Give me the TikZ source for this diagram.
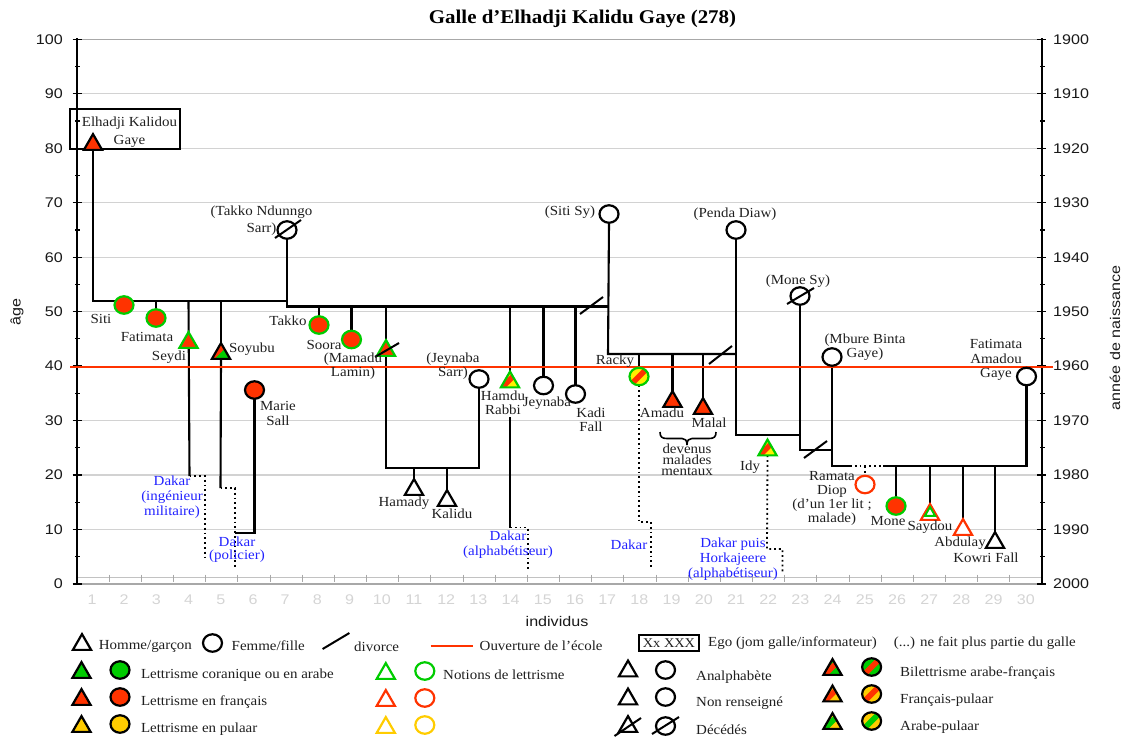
\documentclass[tikz,border=0pt]{standalone}
\usepackage{fontspec}
\usetikzlibrary{shapes.geometric}
\newfontfamily\serx[FakeStretch=1.08]{Liberation Serif}
\newfontfamily\sanx[FakeStretch=1.15]{Liberation Sans}
\definecolor{cred}{HTML}{FF3300}
\definecolor{cgreen}{HTML}{00CC00}
\definecolor{cyel}{HTML}{FFCC00}
\definecolor{byel}{HTML}{FFF000}
\definecolor{cblue}{HTML}{2222FF}
\definecolor{cgrid}{HTML}{D2D2D2}
\definecolor{caxis}{HTML}{A8A8A8}
\definecolor{ctick}{HTML}{D4D4D4}
\pgfdeclarelayer{bg}
\pgfsetlayers{bg,main}
\tikzset{
  tri/.style={regular polygon,regular polygon sides=3,minimum size=21pt,inner sep=0pt,outer sep=0pt,line width=2.2pt,draw=black,yshift=-0.6pt},
  circ/.style={ellipse,minimum width=19pt,minimum height=17.5pt,inner sep=0pt,outer sep=0pt,line width=2.2pt,draw=black},
  lin/.style={line width=2.1pt,line cap=butt,line join=miter,draw=black},
  dot/.style={line width=1.8pt,draw=black,dash pattern=on 1.8pt off 3pt},
  slash/.style={line width=2pt,draw=black},
  lab/.style={font=\serx\fontsize{13.85}{14.2}\selectfont,align=center,inner sep=0pt,text=black!88},
  blu/.style={lab,text=cblue,font=\serx\fontsize{13.85}{15}\selectfont},
  leg/.style={font=\serx\fontsize{13.85}{14}\selectfont,inner sep=0pt,anchor=west,text=black!88},
  leg0/.style={font=\serx\fontsize{13.85}{14}\selectfont,inner sep=0pt,anchor=west,text=black!88},
  ax/.style={font=\sanx\fontsize{14}{15}\selectfont,inner sep=0pt,text=black!90},
  axg/.style={font=\sanx\fontsize{14}{15}\selectfont,inner sep=0pt,text=ctick},
  band/.style 2 args={fill=#1,path picture={\draw[#2,line width=5.5pt] ([shift={(-16pt,-16pt)}]path picture bounding box.center) -- ([shift={(16pt,16pt)}]path picture bounding box.center);}},
  half/.style 2 args={fill=#1,path picture={\draw[#2,line width=12pt] ([shift={(-20pt,-13pt)}]path picture bounding box.center) -- ([shift={(13pt,20pt)}]path picture bounding box.center);}},
}
\begin{document}
\begin{tikzpicture}[x=1pt,y=-1pt]
\useasboundingbox (0,0) rectangle (1123,737);

% ---------- chart frame
\begin{pgfonlayer}{bg}
\foreach \v in {10,20,...,90} {\pgfmathsetmacro\yy{584-5.447*\v}
  \draw[cgrid,line width=1.2pt] (77,\yy) -- (1042,\yy);}
\draw[caxis,line width=1.2pt] (77,39.3) -- (1042,39.3);
\draw[caxis!70,line width=1pt] (77,577) -- (1042,577);
\draw[caxis,line width=1.5pt] (77,584) -- (1042,584);
\foreach \k in {0,...,29} {\pgfmathsetmacro\xx{77+32.17*\k}\draw[caxis,line width=1pt] (\xx,574.5) -- (\xx,582);}
\draw[black,line width=1.6pt] (77,38) -- (77,584.5);
\draw[black,line width=1.6pt] (1042,38) -- (1042,584.5);
\foreach \v in {0,10,...,100} {\pgfmathsetmacro\yy{584-5.447*\v}
  \draw[black,line width=1.3pt] (72.5,\yy) -- (81.5,\yy);
  \draw[black,line width=1.3pt] (1037,\yy) -- (1046,\yy);}
\foreach \v in {5,15,...,95} {\pgfmathsetmacro\yy{584-5.447*\v}
  \draw[black,line width=1.1pt] (75,\yy) -- (80,\yy);
  \draw[black,line width=1.1pt] (1040,\yy) -- (1044.5,\yy);}
\end{pgfonlayer}
\foreach \v in {0,10,...,100} {\pgfmathsetmacro\yy{584-5.447*\v}\pgfmathtruncatemacro\an{2000-\v}
  \node[ax,anchor=east] (ya\v) at (63,\yy) {\v};
  \node[ax,anchor=west] (yb\v) at (1053,\yy) {\an};}
\foreach \k in {1,...,30} {\pgfmathsetmacro\xx{92+32.2*(\k-1)}
  \node[axg] (xl\k) at (\xx,600) {\k};}
\node[ax] (xtitle) at (557,621) {individus};
\node[ax,rotate=90] (ytitle) at (17,312) {âge};
\node[ax,rotate=90] (ztitle) at (1115,338) {année de naissance};
\node[inner sep=0pt,font=\serx\bfseries\fontsize{19.4}{20}\selectfont] (title) at (582.5,19) {Galle d’Elhadji Kalidu Gaye (278)};

% ---------- school line
\coordinate (redL) at (70,367);
\coordinate (redR) at (1053,367);
\draw[cred,line width=2.2pt] (redL) -- (redR);

% ---------- ego box
\node[draw=black,line width=2.2pt,minimum width=110pt,minimum height=40pt,inner sep=0pt] (egobox) at (125,129) {};

% ---------- persons
\node[tri,fill=cred] (ego) at (93,144) {};
\node[circ,draw=cgreen,fill=cred] (siti) at (124,305) {};
\node[circ,draw=cgreen,fill=cred] (fatimata) at (156,318) {};
\node[tri,draw=cgreen,fill=cred] (seydi) at (188.5,342) {};
\node[tri,half={cgreen}{cred}] (soyubu) at (221,353) {};
\node[circ,fill=cred] (marie) at (254.5,390) {};
\node[circ] (takN) at (287,230) {};
\node[circ,draw=cgreen,fill=cred] (takko) at (319,325) {};
\node[circ,draw=cgreen,fill=cred] (soora) at (351.5,339.5) {};
\node[tri,draw=cgreen,fill=cred] (mamadu) at (386,350) {};
\node[circ] (jeynS) at (479,379) {};
\node[tri,fill=white] (hamady) at (414,489) {};
\node[tri,fill=white] (kalidu) at (447,500) {};
\node[tri,draw=cgreen,band={byel}{cred}] (hamdu) at (510,381.5) {};
\node[circ] (jeyn) at (543.5,385.5) {};
\node[circ] (kadi) at (575.5,394) {};
\node[circ] (sitisy) at (609,214) {};
\node[circ,draw=cgreen,band={byel}{cred}] (racky) at (639,376.5) {};
\node[tri,fill=cred] (amadu) at (672.5,401) {};
\node[tri,fill=cred] (malal) at (703,408) {};
\node[circ] (penda) at (736,230) {};
\node[tri,draw=cgreen,band={byel}{cred}] (idy) at (767.5,449.5) {};
\node[circ] (monesy) at (800,296) {};
\node[circ] (mbure) at (832,357) {};
\node[circ] (fatam) at (1026.5,376.5) {};
\node[circ,draw=cred,fill=white] (ramata) at (865,484.5) {};
\node[circ,draw=cgreen,fill=cred] (mone) at (896,506) {};
\node[tri,draw=cred,fill=white] (saydou) at (930,514) {};
\node[tri,draw=cgreen,fill=white,minimum size=11.8pt,line width=1.9pt] (saydouIn) at (930,512.3) {};
\node[tri,draw=cred,fill=white] (abdulay) at (963,529) {};
\node[tri,fill=white] (kowri) at (995,542) {};

% ---------- junctions
\coordinate (b1L) at (93,301);
\coordinate (b1R) at (287,301);
\coordinate (b2L) at (287,306.5);
\coordinate (b2R) at (608,306.5);
\coordinate (b3L) at (608,354);
\coordinate (b3R) at (736,354);
\coordinate (b4L) at (736,435);
\coordinate (b4R) at (800,435);
\coordinate (b5R) at (832,450);
\coordinate (b5L) at (800,450);
\coordinate (b6L) at (832,466);
\coordinate (b6a) at (850,466);
\coordinate (b6b) at (883,466);
\coordinate (b6R) at (1026.5,466);
\coordinate (b7L) at (386,468);
\coordinate (b7R) at (479,468);
\coordinate (sy1) at (189.5,476);
\coordinate (sy2) at (205,476);
\coordinate (sy3) at (205,558);
\coordinate (so1) at (220.5,488);
\coordinate (so2) at (235,488);
\coordinate (so3) at (235,569);
\coordinate (ma1) at (254.5,533);
\coordinate (ma2) at (235,533);
\coordinate (ha0) at (510,417);
\coordinate (ha1) at (510,527.5);
\coordinate (ha2) at (528,527.5);
\coordinate (ha3) at (528,569);
\coordinate (ra1) at (639,522);
\coordinate (ra2) at (651,522);
\coordinate (ra3) at (651,567);
\coordinate (id1) at (767,549);
\coordinate (id2) at (782.5,549);
\coordinate (id3) at (782.5,573);

% ---------- connectors
\begin{pgfonlayer}{bg}
\draw[lin] (ego.south) -- (b1L) -- (b1R);
\draw[lin] (takN.south) -- (b2L) -- (b2R);
\draw[lin] (fatimata.north |- b1L) -- (fatimata.north);
\draw[lin] (seydi.north |- b1L) -- (sy1);
\draw[dot] (sy1) -- (sy2) -- (sy3);
\draw[lin] (soyubu.north |- b1L) -- (soyubu.north);
\draw[lin] (soyubu.south) -- (so1);
\draw[dot] (so1) -- (so2) -- (so3);
\draw[lin] (marie.south) -- (ma1) -- (ma2);
\draw[lin] (takko.north |- b2L) -- (takko.north);
\draw[lin] (soora.north |- b2L) -- (soora.north);
\draw[lin] (mamadu.north |- b2L) -- (b7L) -- (b7R) -- (jeynS.south);
\draw[lin] (hamady.north |- b7L) -- (hamady.north);
\draw[lin] (kalidu.north |- b7L) -- (kalidu.north);
\draw[lin] (hamdu.north |- b2L) -- (hamdu.north);
\draw[lin] (ha0) -- (ha1);
\draw[dot] (ha1) -- (ha2) -- (ha3);
\draw[lin] (jeyn.north |- b2L) -- (jeyn.north);
\draw[lin] (kadi.north |- b2L) -- (kadi.north);
\draw[lin] (sitisy.south) -- (b3L) -- (b3R);
\draw[lin] (racky.north |- b3L) -- (racky.north);
\draw[dot] (racky.south) -- (ra1) -- (ra2) -- (ra3);
\draw[lin] (amadu.north |- b3L) -- (amadu.north);
\draw[lin] (malal.north |- b3L) -- (malal.north);
\draw[lin] (penda.south) -- (b4L) -- (b4R);
\draw[dot] (idy.south) -- (id1) -- (id2) -- (id3);
\draw[lin] (monesy.south) -- (b5L) -- (b5R);
\draw[lin] (mbure.south) -- (b6L) -- (b6a);
\draw[dot] (b6a) -- (b6b);
\draw[dot] (ramata.north |- b6a) -- (ramata.north);
\draw[lin] (b6b) -- (b6R) -- (fatam.south);
\draw[lin] (mone.north |- b6R) -- (mone.north);
\draw[lin] (saydou.north |- b6R) -- (saydou.north);
\draw[lin] (abdulay.north |- b6R) -- (abdulay.north);
\draw[lin] (kowri.north |- b6R) -- (kowri.north);
\end{pgfonlayer}

% ---------- divorce / death marks
\draw[slash] (275,238) -- (301,220);
\draw[slash] (375,357) -- (399,343);
\draw[slash] (580,314) -- (603,297);
\draw[slash] (709,364) -- (732,346);
\draw[slash] (787,304) -- (814,288);
\draw[slash] (804,458) -- (827,441);

% ---------- brace
\draw[line width=1.6pt] (660,432) .. controls (660,437) and (662,438.5) .. (667,438.5) -- (682,438.5) .. controls (685,438.5) and (687,440) .. (687,445);
\draw[line width=1.6pt] (716,432) .. controls (716,437) and (714,438.5) .. (709,438.5) -- (692,438.5) .. controls (689,438.5) and (687,440) .. (687,445);

% ---------- labels
\node[lab] (lEgo) at (129.5,132) {Elhadji Kalidou\\[4pt]Gaye};
\node[lab] (lTakN) at (261.5,220.5) {(Takko Ndunngo\\[3pt]Sarr)};
\node[lab] (lSiti) at (101,319) {Siti};
\node[lab] (lFat) at (147,337) {Fatimata};
\node[lab] (lSey) at (169,357) {Seydi};
\node[lab] (lSoy) at (252,349) {Soyubu};
\node[lab] (lTak) at (288,321) {Takko};
\node[lab] (lSoo) at (324,345) {Soora};
\node[lab] (lMam) at (353,366) {(Mamadu\\Lamin)};
\node[lab] (lMar) at (278,413.5) {Marie\\Sall};
\node[lab] (lHam) at (404,503) {Hamady};
\node[lab] (lKal) at (452,514) {Kalidu};
\node[lab] (lJeS) at (453,366.5) {(Jeynaba\\Sarr)};
\node[lab] (lHad) at (503,402.5) {Hamdu\\Rabbi};
\node[lab] (lJey) at (547,403) {Jeynaba};
\node[lab] (lKad) at (591,419.5) {Kadi\\Fall};
\node[lab] (lSit) at (570,212) {(Siti Sy)};
\node[lab] (lPen) at (735,214) {(Penda Diaw)};
\node[lab] (lRac) at (615,361) {Racky};
\node[lab] (lAma) at (662,413) {Amadu};
\node[lab] (lMal) at (709,423) {Malal};
\node[lab,font=\serx\fontsize{13.85}{11}\selectfont] (lDev) at (687,459.5) {devenus\\malades\\mentaux};
\node[lab] (lIdy) at (750,467) {Idy};
\node[lab] (lMoS) at (798,281) {(Mone Sy)};
\node[lab] (lMbu) at (865,347.5) {(Mbure Binta\\Gaye)};
\node[lab] (lFam) at (996,360) {Fatimata\\Amadou\\Gaye};
\node[lab] (lRam) at (832,498.5) {Ramata\\Diop\\(d’un 1er lit ;\\malade)};
\node[lab] (lMon) at (888,521) {Mone};
\node[lab] (lSay) at (930,527) {Saydou};
\node[lab] (lAbd) at (960,543) {Abdulay};
\node[lab] (lKow) at (986,558) {Kowri Fall};
\node[blu] (dk1) at (172,497) {Dakar\\(ingénieur\\militaire)};
\node[blu,font=\serx\fontsize{13.85}{13}\selectfont] (dk2) at (237,549.5) {Dakar\\(policier)};
\node[blu] (dk3) at (508,544.5) {Dakar\\(alphabétiseur)};
\node[blu] (dk4) at (629,545) {Dakar};
\node[blu] (dk5) at (733,559) {Dakar puis\\Horkajeere\\(alphabétiseur)};

% ---------- legend, first row
\node[tri,fill=white] (k1) at (82,644) {};
\node[leg0] (k1t) at (98.7,646) {Homme/garçon};
\node[circ,fill=white] (k2) at (212.5,643) {};
\node[leg0] (k2t) at (231.5,646) {Femme/fille};
\draw[slash] (322.6,649) -- (349.4,633);
\node[leg0] (k3t) at (354,647) {divorce};
\coordinate (k4a) at (430.5,646);
\coordinate (k4b) at (472.6,646);
\draw[cred,line width=2pt] (k4a) -- (k4b);
\node[leg0] (k4t) at (479.5,646) {Ouverture de l’école};
\node[draw=black,line width=2pt,minimum width=60pt,minimum height=16pt,inner sep=0pt,font=\serx\fontsize{13.3}{14}\selectfont,text=black!88] (k5) at (669,643) {Xx XXX};
\node[leg0] (k5t) at (708,643) {Ego (jom galle/informateur)};
\node[leg0] (k6t) at (893.7,643) {(...) ne fait plus partie du galle};

% ---------- legend, literacy
\node[tri,fill=cgreen] (a1) at (81.5,672) {};
\node[circ,fill=cgreen] (a2) at (120,670) {};
\node[leg] (at) at (140.8,675) {Lettrisme coranique ou en arabe};
\node[tri,fill=cred] (b1) at (81.5,699) {};
\node[circ,fill=cred] (b2) at (120,697) {};
\node[leg] (bt) at (140.8,702) {Lettrisme en français};
\node[tri,fill=cyel] (c1) at (81.5,726) {};
\node[circ,fill=cyel] (c2) at (120,724) {};
\node[leg] (ct) at (140.8,729) {Lettrisme en pulaar};

\node[tri,draw=cgreen] (d1) at (385.8,673) {};
\node[circ,draw=cgreen] (d2) at (424.8,671) {};
\node[leg] (dt) at (443,675) {Notions de lettrisme};
\node[tri,draw=cred] (e1) at (385.8,700) {};
\node[circ,draw=cred] (e2) at (424.8,698) {};
\node[tri,draw=cyel] (f1) at (385.8,727) {};
\node[circ,draw=cyel] (f2) at (424.8,725) {};

\node[tri] (g1) at (628,670.5) {};
\node[circ] (g2) at (665.5,670) {};
\node[leg] (gt) at (696,677) {Analphabète};
\node[tri] (h1) at (628,698.5) {};
\node[circ] (h2) at (665.5,697) {};
\node[leg] (ht) at (696,703) {Non renseigné};
\node[tri] (i1) at (628,726) {};
\node[circ] (i2) at (665.5,726) {};
\node[leg] (it) at (696,730) {Décédés};
\draw[slash] (614.5,736) -- (641,718);
\draw[slash] (652,734) -- (679,717);

\node[tri,band={cgreen}{cred}] (j1) at (832.5,669) {};
\node[circ,band={cgreen}{cred}] (j2) at (871.6,667) {};
\node[leg] (jt) at (900,673) {Bilettrisme arabe-français};
\node[tri,band={cyel}{cred}] (l1) at (832.5,695.5) {};
\node[circ,band={cyel}{cred}] (l2) at (871.6,694) {};
\node[leg] (lt) at (900,700) {Français-pulaar};
\node[tri,band={cyel}{cgreen}] (m1) at (832.5,723) {};
\node[circ,band={cyel}{cgreen}] (m2) at (871.6,721) {};
\node[leg] (mt) at (900,727) {Arabe-pulaar};
\end{tikzpicture}
\end{document}
